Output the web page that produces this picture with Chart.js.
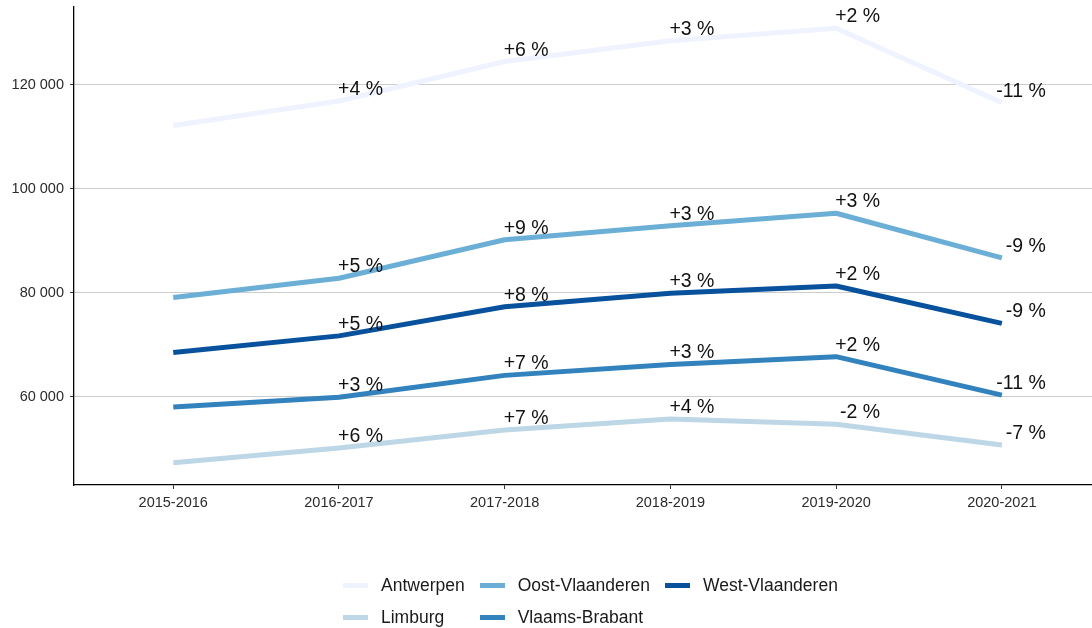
<!DOCTYPE html>
<html>
<head>
<meta charset="utf-8">
<script src="https://cdn.jsdelivr.net/npm/chart.js@4"></script>
<style>
    body { margin: 0; background: #fff; font-family: "Liberation Sans", Arial, sans-serif; }
    #wrap { position: relative; width: 1092px; height: 628px; }
    #legend {
        position: absolute; left: 343px; top: 569px;
        display: grid; grid-auto-flow: column;
        grid-template-rows: repeat(2, 32px); column-gap: 15px;
        font-size: 17.5px; color: #1a1a1a;
    }
    .item { display: flex; align-items: center; }
    .key { width: 25px; height: 5px; margin-right: 13px; }
</style>
</head>
<body>
<div id="wrap">
    <canvas id="chart" width="1092" height="628"></canvas>
    <div id="legend"></div>
</div>
<script>
// Categories and tick labels
const seasons = ['2015-2016', '2016-2017', '2017-2018', '2018-2019', '2019-2020', '2020-2021'];
const yTicks = [60000, 80000, 100000, 120000];

// Series values
const antwerpen = [112200, 116900, 124500, 128500, 130900, 116600];
const limburg = [47300, 50100, 53600, 55700, 54700, 50700];
const oostVlaanderen = [79100, 82800, 90200, 92900, 95300, 86700];
const vlaamsBrabant = [58000, 59900, 64100, 66200, 67700, 60300];
const westVlaanderen = [68500, 71700, 77300, 79900, 81300, 74100];

// Percentage change labels
const antwerpenPct = [null, '+4 %', '+6 %', '+3 %', '+2 %', '-11 %'];
const limburgPct = [null, '+6 %', '+7 %', '+4 %', '-2 %', '-7 %'];
const oostVlaanderenPct = [null, '+5 %', '+9 %', '+3 %', '+3 %', '-9 %'];
const vlaamsBrabantPct = [null, '+3 %', '+7 %', '+3 %', '+2 %', '-11 %'];
const westVlaanderenPct = [null, '+5 %', '+8 %', '+3 %', '+2 %', '-9 %'];

const series = [
    { name: 'Antwerpen', values: antwerpen, pct: antwerpenPct, color: '#eff3ff' },
    { name: 'Limburg', values: limburg, pct: limburgPct, color: '#bdd7e7' },
    { name: 'Oost-Vlaanderen', values: oostVlaanderen, pct: oostVlaanderenPct, color: '#6baed6' },
    { name: 'Vlaams-Brabant', values: vlaamsBrabant, pct: vlaamsBrabantPct, color: '#3182bd' },
    { name: 'West-Vlaanderen', values: westVlaanderen, pct: westVlaanderenPct, color: '#08519c' }
];

const FONT = '"Liberation Sans", Arial, sans-serif';

// Draws the % labels next to each point
const pctLabels = {
    id: 'pctLabels',
    afterDatasetsDraw(chart) {
        const ctx = chart.ctx;
        ctx.save();
        ctx.font = '19.5px ' + FONT;
        ctx.fillStyle = '#111';
        ctx.textAlign = 'right';
        ctx.textBaseline = 'alphabetic';
        chart.data.datasets.forEach((ds, d) => {
            const meta = chart.getDatasetMeta(d);
            meta.data.forEach((pt, i) => {
                const txt = series[d].pct[i];
                if (!txt) return;
                ctx.fillText(txt, pt.x + 44, pt.y - 6);
            });
        });
        ctx.restore();
    }
};

const fmt = v => String(v).replace(/\B(?=(\d{3})+(?!\d))/g, ' ');

const ctx = document.getElementById('chart').getContext('2d');
new Chart(ctx, {
    type: 'line',
    data: {
        datasets: series.map(s => ({
            label: s.name,
            data: s.values.map((v, i) => ({ x: i, y: v })),
            borderColor: s.color,
            backgroundColor: s.color,
            borderWidth: 5,
            borderJoinStyle: 'round',
            pointRadius: 0,
            fill: false,
            tension: 0
        }))
    },
    options: {
        responsive: false,
        animation: false,
        layout: { padding: { top: 7, left: 0, right: 0, bottom: 0 } },
        plugins: {
            legend: { display: false },
            tooltip: { enabled: false }
        },
        scales: {
            x: {
                type: 'linear',
                min: -0.599,
                max: 5.544,
                afterBuildTicks: axis => { axis.ticks = seasons.map((s, i) => ({ value: i })); },
                afterFit: axis => {
                    axis.height = 143;
                    axis.paddingLeft = 0;
                    axis.paddingRight = 0;
                },
                ticks: {
                    callback: v => seasons[v],
                    font: { family: FONT, size: 14.5 },
                    color: '#2b2b2b',
                    padding: 5,
                    maxRotation: 0
                },
                grid: { drawOnChartArea: false, tickLength: 4, tickColor: '#333', tickWidth: 1 },
                border: { display: true, color: '#000', width: 1.3 }
            },
            y: {
                min: 43000,
                max: 135000,
                afterBuildTicks: axis => { axis.ticks = yTicks.map(v => ({ value: v })); },
                afterFit: axis => {
                    axis.width = 74;
                    axis.paddingTop = 0;
                    axis.paddingBottom = 0;
                },
                ticks: {
                    callback: v => fmt(v),
                    font: { family: FONT, size: 14.5 },
                    color: '#2b2b2b',
                    padding: 6
                },
                grid: { color: '#cccccc', lineWidth: 1, tickLength: 4, tickColor: '#333' },
                border: { display: true, color: '#000', width: 1.3 }
            }
        }
    },
    plugins: [pctLabels]
});

// Legend, filled column by column like the original
const legend = document.getElementById('legend');
series.forEach(s => {
    const item = document.createElement('div');
    item.className = 'item';
    item.innerHTML = '<span class="key" style="background:' + s.color + '"></span><span>' + s.name + '</span>';
    legend.appendChild(item);
});
</script>
</body>
</html>
